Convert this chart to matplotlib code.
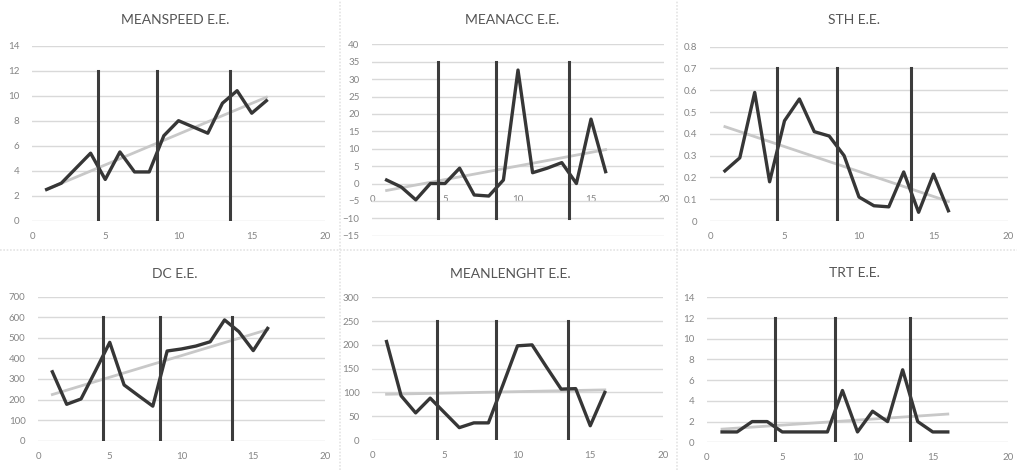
import numpy as np
import matplotlib.pyplot as plt
from matplotlib.lines import Line2D

W, H = 1017, 470

x = np.arange(1, 17)

meanspeed = [2.5, 3.0, 4.2, 5.4, 3.3, 5.5, 3.9, 3.9, 6.8, 8.0, 7.5, 7.0, 9.4, 10.4, 8.6, 9.6]
meanacc = [1.0, -1.0, -4.7, 0.0, 0.0, 4.4, -3.3, -3.6, 1.0, 32.6, 3.1, 4.4, 6.0, 0.0, 18.5, 3.4]
sth = [0.23, 0.29, 0.59, 0.18, 0.46, 0.56, 0.41, 0.39, 0.30, 0.11, 0.07, 0.065, 0.225, 0.04, 0.215, 0.047]
dc = [335, 177, 203, 339, 478, 271, 219, 168, 436, 446, 460, 481, 587, 530, 438, 546]
meanlenght = [207, 93, 57, 88, 57, 26, 36, 36, 116, 198, 200, 153, 107, 108, 30, 100]
trt = [1, 1, 2, 2, 1, 1, 1, 1, 5, 1, 3, 2, 7, 2, 1, 1]

phase_x = [4.5, 8.5, 13.5]

# title, data, y range, y step, vertical line span
panels = [
    ("MEANSPEED E.E.", meanspeed, (0, 14), 2, (0, 12)),
    ("MEANACC E.E.", meanacc, (-15, 40), 5, (-10, 35)),
    ("STH E.E.", sth, (0, 0.8), 0.1, (0, 0.7)),
    ("DC E.E.", dc, (0, 700), 100, (0, 600)),
    ("MEANLENGHT E.E.", meanlenght, (0, 300), 50, (0, 250)),
    ("TRT E.E.", trt, (0, 14), 2, (0, 12)),
]

# axes boxes in pixels: left, right, top, bottom ; title centre x, y
boxes = [
    (32, 325, 45.7, 220.7, 175, 20),
    (372, 664, 44.3, 235.7, 512, 20),
    (710, 1008, 46.7, 221, 854, 20),
    (38, 325, 296.7, 440.7, 175, 274),
    (372, 663, 297.3, 440, 510, 274),
    (707, 1008, 297.3, 442.3, 854, 273),
]

plt.rcParams['font.family'] = ['Lato', 'DejaVu Sans']

fig = plt.figure(figsize=(W / 100, H / 100), dpi=100)
fig.patch.set_facecolor('white')

# faint separators between the chart blocks
sep = dict(color='#e4e4e4', lw=1.2, linestyle=(0, (1, 1)))
fig.add_artist(Line2D([340 / W, 340 / W], [0, 1], transform=fig.transFigure, **sep))
fig.add_artist(Line2D([677 / W, 677 / W], [0, 1], transform=fig.transFigure, **sep))
fig.add_artist(Line2D([0, 1], [1 - 250 / H, 1 - 250 / H], transform=fig.transFigure, **sep))

for (title, vals, ylim, ystep, vspan), (l, r, t, b, tx, ty) in zip(panels, boxes):
    ax = fig.add_axes([l / W, 1 - b / H, (r - l) / W, (b - t) / H])
    ax.set_xlim(0, 20)
    ax.set_ylim(*ylim)
    yt = np.arange(ylim[0], ylim[1] + ystep / 2, ystep)
    ax.set_yticks(yt)
    ax.set_xticks([0, 5, 10, 15, 20])
    if ystep < 1:
        ax.set_yticklabels([f"{v:g}" for v in np.round(yt, 2)])
    ax.grid(axis='y', color='#d9d9d9', lw=1)
    ax.set_axisbelow(True)
    for s in ax.spines.values():
        s.set_visible(False)
    if ylim[0] < 0:
        # x labels sit on the zero line, like Excel
        ax.spines['bottom'].set_position(('data', 0))
        ax.spines['bottom'].set_visible(True)
        ax.spines['bottom'].set_color('none')
    ax.tick_params(length=0, labelsize=7, colors='#858585')
    ax.tick_params(axis='y', pad=9)
    ax.tick_params(axis='x', pad=8)

    k, c = np.polyfit(x, vals, 1)
    ax.plot(x, k * x + c, color='#c8c8c8', lw=2, zorder=2)
    ax.plot(x, vals, color='#363636', lw=2.4, zorder=3)
    for px in phase_x:
        ax.plot([px, px], vspan, color='#3c3c3c', lw=2.2, zorder=4)

    fig.text(tx / W, 1 - ty / H, title, ha='center', va='center',
             fontsize=10, color='#555555')

fig.savefig('out.png', dpi=100, facecolor='white')
